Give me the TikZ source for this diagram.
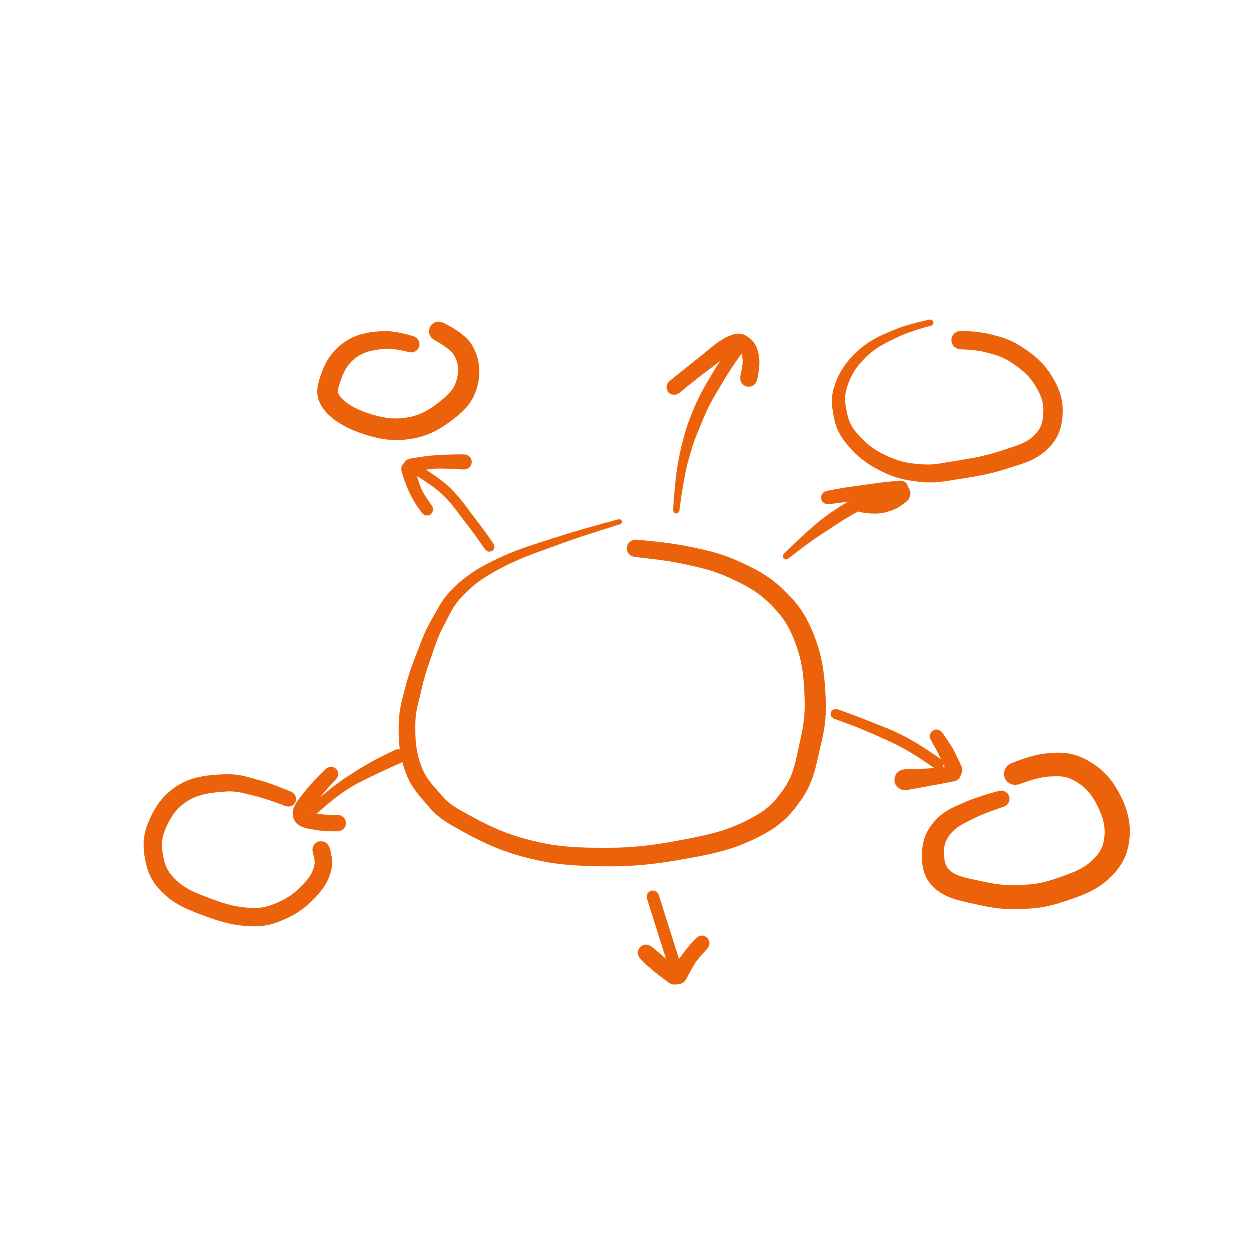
\documentclass[tikz,border=0pt]{standalone}
\usepackage{tikz}
\usetikzlibrary{decorations.markings}
\definecolor{pen}{RGB}{235,98,10}
% pen stroke: width (px) at 0, 1/4, 1/2, 3/4 and the end of the path
\tikzset{brush/.style n args={5}{postaction={decorate, decoration={markings,
  mark=between positions 1.5pt and -1.5pt step 0.5pt with {%
    \pgfmathsetmacro\fpos{(1.5+(\pgfkeysvalueof{/pgf/decoration/mark info/sequence number}-1)*0.5)/\pgfdecoratedpathlength}%
    \pgfmathsetmacro\wpx{\fpos<0.25 ? #1+(#2-#1)*\fpos*4 : (\fpos<0.5 ? #2+(#3-#2)*(\fpos-0.25)*4 : (\fpos<0.75 ? #3+(#4-#3)*(\fpos-0.5)*4 : #4+(#5-#4)*(\fpos-0.75)*4))}%
    \fill[pen] (0pt,0pt) circle[radius=\wpx*0.2845pt];}}}}}
\tikzset{sm/.style={smooth, tension=0.7}}

\begin{document}
\begin{tikzpicture}[x=0.02cm, y=-0.02cm]
\useasboundingbox (0,0) rectangle (1241,1241);

% main circle
\path[brush={5}{16}{18}{21}{17}] plot[sm] coordinates {(622,521) (560,540) (500,563) (460,590) (438,622) (424,655) (413,690) (407,725) (412,765) (430,795) (460,820) (525,848) (600,857) (680,850) (750,830) (792,795) (810,745) (815,695) (805,640) (778,598) (735,570) (685,555) (632,548)};

% top left circle and arrow
\path[brush={16}{20}{21}{22}{19}] plot[sm] coordinates {(414,345) (383,340) (350,350) (331,377) (332,403) (367,424) (410,428) (447,410) (467,383) (463,350) (436,330)};
\path[brush={10}{10}{10}{10}{10}] plot[sm] coordinates {(491,549) (470,520) (445,490) (415,469)};
\path[brush={15}{14}{13}{13}{13}] plot[sm] coordinates {(467,462) (435,462) (407,466)};
\path[brush={13}{13}{12}{12}{12}] plot[sm] coordinates {(407,466) (416,492) (429,512)};

% top arrow
\path[brush={6}{9}{12}{13}{13}] plot[sm] coordinates {(676,513) (683,462) (698,415) (718,377) (738,347)};
\path[brush={15}{15}{16}{16}{17}] plot[sm] coordinates {(672,389) (702,365) (731,344) (745,345) (751,360) (748,381)};

% top right circle and arrow
\path[brush={6}{13}{18}{19}{18}] plot[sm] coordinates {(933,322) (897,333) (863,353) (842,383) (840,413) (853,440) (883,463) (920,473) (957,470) (1003,460) (1040,443) (1053,413) (1043,380) (1017,355) (987,343) (957,340)};
\path[brush={6}{9}{12}{13}{13}] plot[sm] coordinates {(784,558) (815,532) (847,510) (868,500)};
\path[brush={13}{14}{14}{15}{15}] plot[sm] coordinates {(825,498) (865,492) (904,488)};
\path[brush={8}{16}{20}{22}{19}] plot[sm] coordinates {(852,505) (880,503) (903,492)};

% bottom left circle and arrow
\path[brush={15}{18}{18}{18}{17}] plot[sm] coordinates {(291,800) (257,788) (223,783) (183,793) (158,823) (154,857) (170,887) (207,907) (250,917) (283,910) (310,890) (323,867) (320,847)};
\path[brush={14}{13}{11}{10}{10}] plot[sm] coordinates {(401,755) (370,770) (340,788) (312,811)};
\path[brush={14}{15}{16}{16}{16}] plot[sm] coordinates {(333,772) (312,795) (301,815) (318,822) (341,823)};

% right arrow and bottom right circle
\path[brush={10}{10}{11}{11}{11}] plot[sm] coordinates {(833,713) (870,727) (907,744) (941,766)};
\path[brush={13}{14}{15}{15}{15}] plot[sm] coordinates {(935,734) (946,752) (956,773)};
\path[brush={15}{16}{17}{19}{21}] plot[sm] coordinates {(956,773) (930,777) (902,780)};
\path[brush={16}{23}{24}{25}{22}] plot[sm] coordinates {(1004,798) (970,810) (943,827) (933,853) (943,880) (980,893) (1020,897) (1060,890) (1100,870) (1117,837) (1107,797) (1080,770) (1047,765) (1012,775)};

% bottom arrow
\path[brush={12}{12}{12}{12}{12}] plot[sm] coordinates {(652,894) (664,932) (677,973)};
\path[brush={16}{17}{17}{17}{17}] plot[sm] coordinates {(644,951) (660,965) (677,978)};
\path[brush={17}{16}{15}{15}{15}] plot[sm] coordinates {(677,978) (690,957) (704,941)};
\end{tikzpicture}
\end{document}
